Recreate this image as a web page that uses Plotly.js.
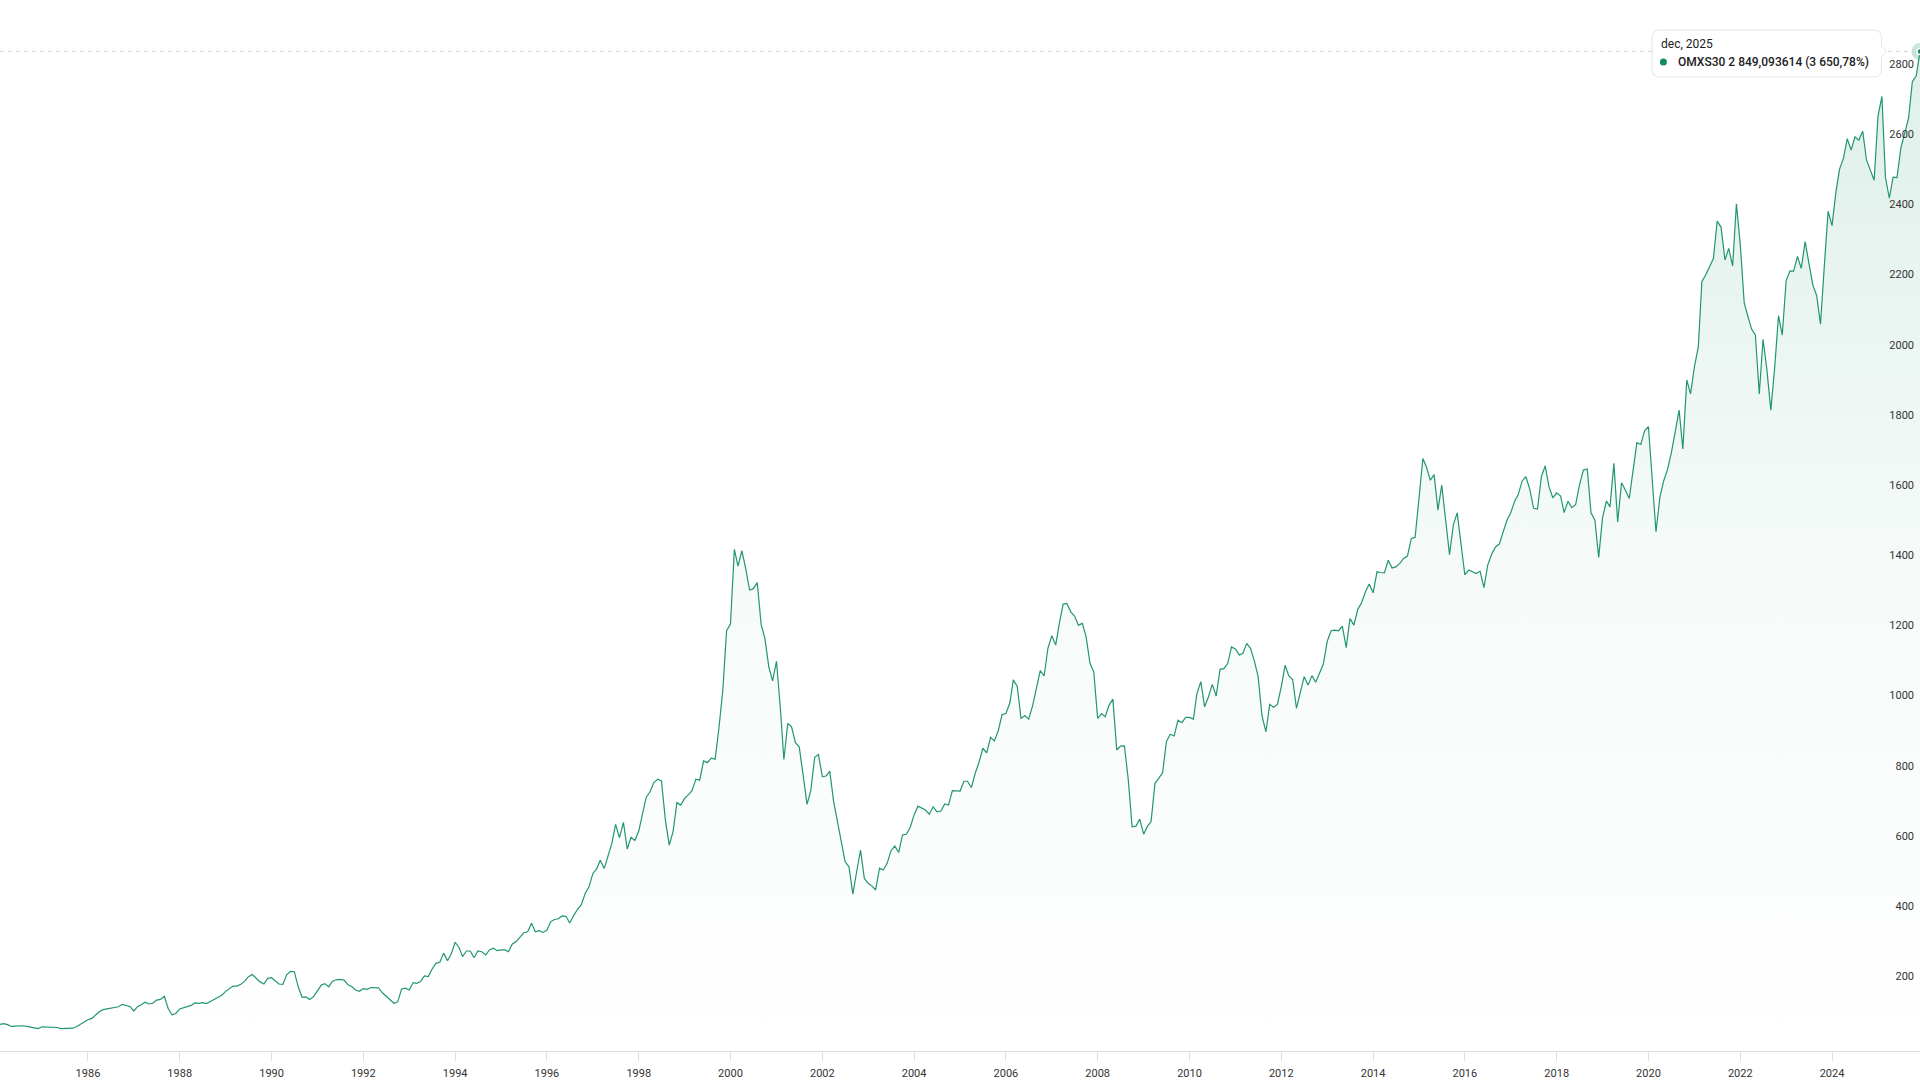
<!DOCTYPE html>
<html>
<head>
<meta charset="utf-8">
<script src="https://cdn.plot.ly/plotly-3.0.1.min.js"></script>
<style>
  html, body { margin: 0; padding: 0; background: #ffffff; }
  #chart { width: 1920px; height: 1080px; }
</style>
</head>
<body>
<div id="chart"></div>
<script>
// ---- DATA (monthly OMXS30 values) ----
const startMonth = '1984-02';            // first monthly point
const seriesName = 'OMXS30';

// Feb 1984 .. Dec 1989
const v1984_1989 = [
  75.96, 78, 75, 70, 71, 72, 72, 70, 68, 66, 64,
  69, 69, 69, 69, 67, 64, 65, 66, 65, 69, 76, 84,
  89, 93, 103, 112, 118, 120, 122, 124, 126, 133, 131, 127,
  114, 127, 132, 139, 134, 136, 145, 147, 156, 121, 103, 107,
  120, 123, 126, 130, 137, 136, 138, 135, 141, 147, 151, 159,
  170, 178, 185, 185, 190, 199, 212, 218, 207, 197, 191, 207
];
// Jan 1990 .. Dec 1999
const v1990_1999 = [
  209, 199, 191, 190, 217, 227, 226, 183, 153, 154, 147, 155,
  172, 188, 192, 183, 199, 203, 204, 202, 189, 184, 174, 170,
  178, 176, 181, 181, 180, 166, 155, 146, 136, 140, 177, 179,
  174, 195, 193, 198, 214, 212, 233, 250, 253, 279, 257, 277,
  310, 295, 269, 285, 285, 266, 285, 283, 274, 288, 293, 286,
  288, 288, 283, 305, 312, 324, 337, 340, 364, 340, 343, 338,
  344, 369, 375, 377, 385, 384, 365, 386, 404, 417, 449, 468,
  506, 520, 544, 520, 555, 592, 646, 608, 652, 576, 609, 600,
  627, 682, 723, 739, 765, 775, 770, 658, 587, 625, 708, 701,
  720, 731, 742, 775, 772, 827, 822, 835, 832, 920, 1029, 1198
];
// Jan 2000 .. Dec 2009
const v2000_2009 = [
  1217, 1430, 1382, 1426, 1376, 1314, 1318, 1335, 1216, 1176, 1095, 1055,
  1111, 977, 831, 934, 924, 879, 867, 787, 703, 742, 837, 845,
  782, 784, 798, 711, 654, 601, 540, 525, 447, 511, 573, 492,
  478, 470, 459, 521, 516, 535, 571, 584, 566, 616, 618, 637,
  673, 698, 692, 687, 675, 696, 682, 684, 704, 701, 742, 741,
  741, 769, 769, 751, 791, 823, 863, 850, 894, 884, 913, 959,
  962, 992, 1058, 1039, 948, 956, 946, 984, 1038, 1084, 1069, 1148,
  1184, 1157, 1217, 1274, 1276, 1252, 1240, 1214, 1219, 1181, 1105, 1081,
  948, 962, 953, 986, 1003, 858, 869, 870, 772, 639, 641, 661,
  618, 641, 654, 763, 777, 794, 882, 903, 898, 943, 936, 951
];
// Jan 2010 .. Dec 2019
const v2010_2019 = [
  951, 946, 1019, 1053, 981, 1010, 1045, 1012, 1088, 1090, 1105, 1152,
  1146, 1129, 1133, 1162, 1148, 1112, 1067, 955, 910, 988, 980, 988,
  1038, 1100, 1069, 1059, 977, 1021, 1067, 1043, 1070, 1051, 1079, 1103,
  1168, 1198, 1200, 1198, 1211, 1150, 1233, 1214, 1259, 1278, 1309, 1331,
  1306, 1366, 1364, 1363, 1399, 1377, 1380, 1390, 1404, 1411, 1461, 1464,
  1575, 1689, 1665, 1627, 1643, 1542, 1613, 1513, 1415, 1499, 1534, 1447,
  1357, 1371, 1366, 1361, 1368, 1321, 1385, 1416, 1437, 1445, 1480, 1513,
  1535, 1568, 1586, 1625, 1637, 1601, 1547, 1545, 1637, 1668, 1608, 1577,
  1591, 1582, 1535, 1567, 1549, 1558, 1613, 1656, 1659, 1534, 1513, 1407,
  1521, 1568, 1551, 1675, 1508, 1620, 1599, 1575, 1656, 1734, 1729, 1768
];
// Jan 2020 .. Dec 2025
const v2020_2025 = [
  1780, 1637, 1480, 1578, 1625, 1658, 1705, 1765, 1827, 1716, 1913, 1873,
  1951, 2008, 2193, 2213, 2236, 2259, 2366, 2348, 2255, 2288, 2238, 2415,
  2298, 2133, 2096, 2058, 2041, 1873, 2029, 1941, 1827, 1946, 2096, 2041,
  2197, 2224, 2223, 2265, 2231, 2307, 2246, 2184, 2153, 2072, 2240, 2394,
  2353, 2449, 2514, 2545, 2601, 2568, 2606, 2596, 2622, 2540, 2511, 2482,
  2666, 2721, 2490, 2431, 2491, 2490, 2573, 2614, 2659, 2763, 2780, 2849.093614
];

const yTickVals = [200, 400, 600, 800, 1000, 1200, 1400, 1600, 1800, 2000, 2200, 2400, 2600, 2800];
const tooltipDate = 'dec, 2025';
const tooltipText = 'OMXS30 2 849,093614 (3 650,78%)';

// ---- BUILD ----
const values = [].concat(v1984_1989, v1990_1999, v2000_2009, v2010_2019, v2020_2025);
const dates = [];
{
  let y = parseInt(startMonth.slice(0, 4), 10);
  let m = parseInt(startMonth.slice(5, 7), 10);
  for (let i = 0; i < values.length; i++) {
    dates.push(y + '-' + String(m).padStart(2, '0') + '-01');
    m++; if (m > 12) { m = 1; y++; }
  }
}
const lastX = dates[dates.length - 1];
const lastY = values[values.length - 1];

const lineColor = '#22966f';
const font = 'Roboto, "Noto Sans", sans-serif';

const traces = [
  {
    type: 'scatter', mode: 'lines', name: seriesName,
    x: dates, y: values,
    line: { color: lineColor, width: 1.2 },
    fill: 'tozeroy',
    fillgradient: {
      type: 'vertical',
      start: 0, stop: lastY,
      colorscale: [[0, 'rgba(34,150,111,0)'], [0.5, 'rgba(34,150,111,0.045)'], [1, 'rgba(34,150,111,0.15)']]
    },
    hoverinfo: 'skip'
  },
  {
    type: 'scatter', mode: 'markers', x: [lastX], y: [lastY],
    marker: { size: 17, color: 'rgba(34,150,111,0.25)' }, hoverinfo: 'skip'
  },
  {
    type: 'scatter', mode: 'markers', x: [lastX], y: [lastY],
    marker: { size: 6, color: '#138a62', line: { color: '#ffffff', width: 1.5 } }, hoverinfo: 'skip'
  }
];

const boxPath = 'M -260,21.5 L -46.5,21.5 Q -38.5,21.5 -38.5,13.5 L -38.5,5 L -33,0 L -38.5,-5 ' +
                'L -38.5,-17.5 Q -38.5,-25.5 -46.5,-25.5 L -260,-25.5 Q -268,-25.5 -268,-17.5 ' +
                'L -268,13.5 Q -268,21.5 -260,21.5 Z';

const layout = {
  width: 1920, height: 1080,
  margin: { l: 0, r: 0, t: 0, b: 29 },
  paper_bgcolor: '#ffffff', plot_bgcolor: '#ffffff',
  showlegend: false,
  font: { family: font, size: 11, color: '#333333' },
  xaxis: {
    type: 'date',
    range: [dates[0], lastX],
    tick0: '1986-01-01', dtick: 'M24', tickformat: '%Y',
    ticks: 'outside', ticklen: 9, tickcolor: '#e0e0e0', tickwidth: 1,
    ticklabelstandoff: 3,
    showline: true, linecolor: '#dedede', linewidth: 1,
    showgrid: false, zeroline: false,
    tickfont: { family: font, size: 11, color: '#333333' },
    fixedrange: true
  },
  yaxis: {
    range: [0, 2996],
    side: 'right',
    tickvals: yTickVals,
    ticklabelposition: 'inside top',
    ticklabelstandoff: 3,
    ticklabelshift: 3,
    ticks: '', showgrid: false, zeroline: false, showline: false,
    tickfont: { family: font, size: 11, color: '#333333' },
    fixedrange: true
  },
  shapes: [
    {
      type: 'line', xref: 'paper', x0: 0, x1: 1, yref: 'y', y0: lastY, y1: lastY,
      line: { color: '#d4d4d4', width: 1, dash: '4px,4px' }, layer: 'above'
    },
    {
      type: 'path', xref: 'x', yref: 'y', xsizemode: 'pixel', ysizemode: 'pixel',
      xanchor: lastX, yanchor: lastY, path: boxPath,
      fillcolor: '#ffffff', line: { color: '#e4e4e4', width: 1 }, layer: 'above'
    },
    {
      type: 'circle', xref: 'x', yref: 'y', xsizemode: 'pixel', ysizemode: 'pixel',
      xanchor: lastX, yanchor: lastY, x0: -260.1, x1: -253.1, y0: -14, y1: -7,
      fillcolor: '#0f8a61', line: { width: 0 }, layer: 'above'
    }
  ],
  annotations: [
    {
      xref: 'x', yref: 'y', x: lastX, y: lastY, xshift: -261, yshift: 7.5,
      xanchor: 'left', yanchor: 'middle', showarrow: false, text: tooltipDate,
      font: { family: font, size: 12, color: '#222222' }
    },
    {
      xref: 'x', yref: 'y', x: lastX, y: lastY, xshift: -244, yshift: -10.5,
      xanchor: 'left', yanchor: 'middle', showarrow: false, text: tooltipText,
      font: { family: font, size: 12, color: '#222222', weight: 500 }
    }
  ]
};

Plotly.newPlot('chart', traces, layout, { displayModeBar: false, staticPlot: true });
</script>
</body>
</html>
